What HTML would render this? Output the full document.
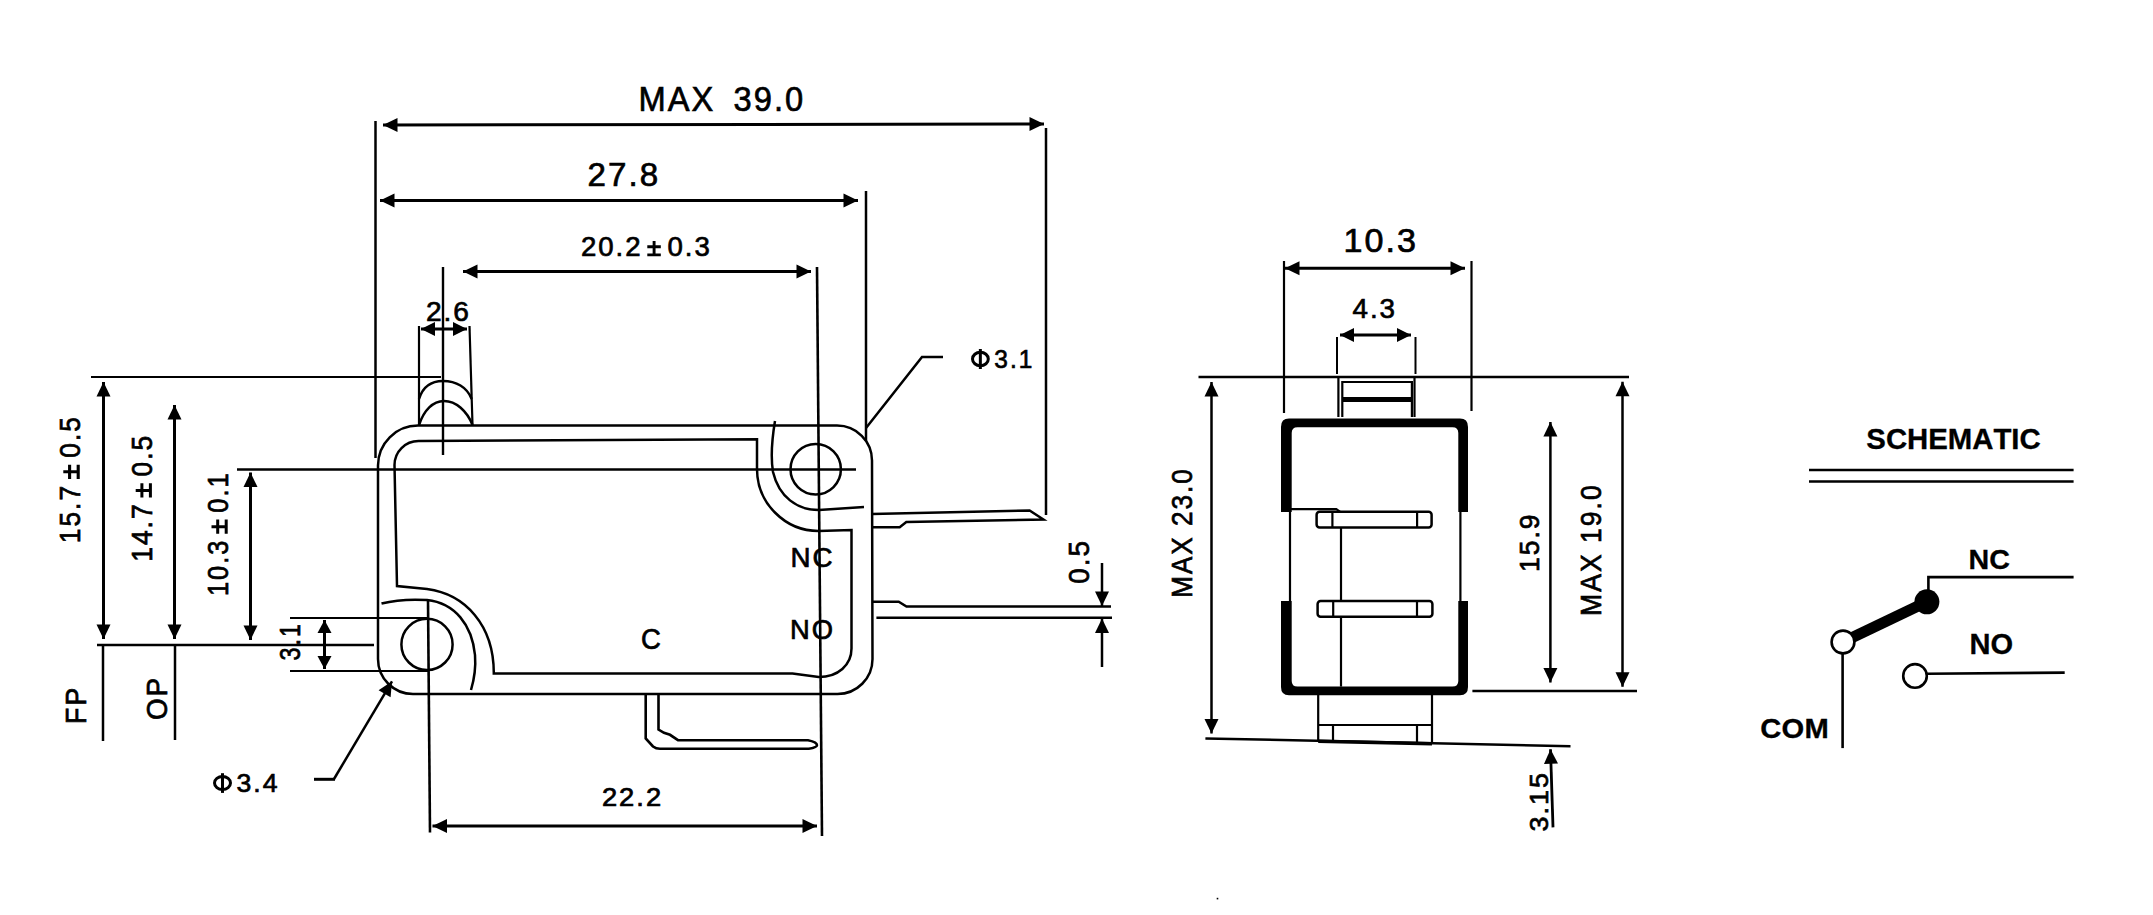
<!DOCTYPE html>
<html><head><meta charset="utf-8"><style>
html,body{margin:0;padding:0;background:#fff;}
body{width:2153px;height:915px;overflow:hidden;}
svg{display:block;}
text{font-family:"Liberation Sans",sans-serif;fill:#000;stroke:#000;}
</style></head><body>
<svg width="2153" height="915" viewBox="0 0 2153 915" stroke="#000" stroke-linecap="butt">
<rect x="0" y="0" width="2153" height="915" fill="#fff" stroke="none"/>
<g fill="#000">
<line x1="383" y1="125" x2="1044" y2="124" stroke-width="3"/>
<path d="M383.0,125.0 L397.5,118.0 L397.5,132.0 Z" stroke="none" fill="#000"/>
<path d="M1044.0,124.0 L1029.5,131.0 L1029.5,117.0 Z" stroke="none" fill="#000"/>
<line x1="375.5" y1="121" x2="375.5" y2="458" stroke-width="2.5"/>
<line x1="1046" y1="128" x2="1046" y2="515" stroke-width="2.5"/>
<g transform="translate(641.2,110.6)"><text transform="translate(-2.7,0) scale(0.9329274719264866,1)" font-size="35.01" font-weight="normal" stroke-width="0.7">M</text><text transform="translate(26.5,0) scale(0.9329274719264866,1)" font-size="35.01" font-weight="normal" stroke-width="0.7">A</text><text transform="translate(50.3,0) scale(0.9329274719264866,1)" font-size="35.01" font-weight="normal" stroke-width="0.7">X</text><text transform="translate(92.4,0) scale(0.9329274719264866,1)" font-size="35.01" font-weight="normal" stroke-width="0.7">3</text><text transform="translate(112.6,0) scale(0.9329274719264866,1)" font-size="35.01" font-weight="normal" stroke-width="0.7">9</text><text transform="translate(132.8,0) scale(0.9329274719264866,1)" font-size="35.01" font-weight="normal" stroke-width="0.7">.</text><text transform="translate(143.9,0) scale(0.9329274719264866,1)" font-size="35.01" font-weight="normal" stroke-width="0.7">0</text></g>
<line x1="380" y1="200.5" x2="858" y2="200.5" stroke-width="3"/>
<path d="M380.0,200.5 L394.5,193.5 L394.5,207.5 Z" stroke="none" fill="#000"/>
<path d="M858.0,200.5 L843.5,207.5 L843.5,193.5 Z" stroke="none" fill="#000"/>
<line x1="866" y1="191" x2="866" y2="441" stroke-width="2.5"/>
<g transform="translate(589.3,185.5)"><text transform="translate(-1.7,0) scale(0.9941563565049182,1)" font-size="33.30" font-weight="normal" stroke-width="0.7">2</text><text transform="translate(18.8,0) scale(0.9941563565049182,1)" font-size="33.30" font-weight="normal" stroke-width="0.7">7</text><text transform="translate(39.2,0) scale(0.9941563565049182,1)" font-size="33.30" font-weight="normal" stroke-width="0.7">.</text><text transform="translate(50.4,0) scale(0.9941563565049182,1)" font-size="33.30" font-weight="normal" stroke-width="0.7">8</text></g>
<line x1="463" y1="271.5" x2="811" y2="271.5" stroke-width="3"/>
<path d="M463.0,271.5 L477.5,264.5 L477.5,278.5 Z" stroke="none" fill="#000"/>
<path d="M811.0,271.5 L796.5,278.5 L796.5,264.5 Z" stroke="none" fill="#000"/>
<line x1="443" y1="267" x2="443" y2="455" stroke-width="2.4"/>
<line x1="817" y1="267" x2="822" y2="836" stroke-width="2.6"/>
<g transform="translate(582.3,256.4)"><text transform="translate(-1.4,0) scale(0.9964660803315929,1)" font-size="27.71" font-weight="normal" stroke-width="0.7">2</text><text transform="translate(16.0,0) scale(0.9964660803315929,1)" font-size="27.71" font-weight="normal" stroke-width="0.7">0</text><text transform="translate(33.3,0) scale(0.9964660803315929,1)" font-size="27.71" font-weight="normal" stroke-width="0.7">.</text><text transform="translate(43.0,0) scale(0.9964660803315929,1)" font-size="27.71" font-weight="normal" stroke-width="0.7">2</text><path d="M65.0,-9.6 H78.5 M71.8,-15.5 V-2.0 M65.0,-1.5 H78.5" stroke-width="2.9" fill="none"/><text transform="translate(85.2,0) scale(0.9964660803315929,1)" font-size="27.71" font-weight="normal" stroke-width="0.7">0</text><text transform="translate(102.5,0) scale(0.9964660803315929,1)" font-size="27.71" font-weight="normal" stroke-width="0.7">.</text><text transform="translate(112.2,0) scale(0.9964660803315929,1)" font-size="27.71" font-weight="normal" stroke-width="0.7">3</text></g>
<line x1="419" y1="326" x2="419" y2="425" stroke-width="2.2"/>
<line x1="469.5" y1="326" x2="472.5" y2="425" stroke-width="2.2"/>
<line x1="421" y1="329" x2="467" y2="329" stroke-width="3"/>
<path d="M421.0,329.0 L435.0,322.0 L435.0,336.0 Z" stroke="none" fill="#000"/>
<path d="M467.0,329.0 L453.0,336.0 L453.0,322.0 Z" stroke="none" fill="#000"/>
<g transform="translate(427.3,320.7)"><text transform="translate(-1.4,0) scale(1.0095730872542297,1)" font-size="27.85" font-weight="normal" stroke-width="0.7">2</text><text transform="translate(16.2,0) scale(1.0095730872542297,1)" font-size="27.85" font-weight="normal" stroke-width="0.7">.</text><text transform="translate(26.0,0) scale(1.0095730872542297,1)" font-size="27.85" font-weight="normal" stroke-width="0.7">6</text></g>
<path d="M419,399 C423,386 432,381 443,381 C456,381 467,387 471.7,399" stroke-width="2.5" fill="none"/>
<path d="M419,425 C424,410 433,401 444,401 C456,401 467,411 472.5,425" stroke-width="2.5" fill="none"/>
<line x1="91" y1="377" x2="441" y2="377" stroke-width="2.2"/>
<line x1="103.5" y1="382" x2="103.5" y2="639" stroke-width="3"/>
<path d="M103.5,382.0 L110.5,396.5 L96.5,396.5 Z" stroke="none" fill="#000"/>
<path d="M103.5,639.0 L96.5,624.5 L110.5,624.5 Z" stroke="none" fill="#000"/>
<line x1="97" y1="645" x2="374" y2="645" stroke-width="2.5"/>
<line x1="103" y1="645" x2="103" y2="741" stroke-width="2.5"/>
<g transform="translate(79.7,541.2) rotate(-90)"><text transform="translate(-2.0,0) scale(0.9000215337342706,1)" font-size="29.28" font-weight="normal" stroke-width="0.7">1</text><text transform="translate(14.7,0) scale(0.9000215337342706,1)" font-size="29.28" font-weight="normal" stroke-width="0.7">5</text><text transform="translate(31.3,0) scale(0.9000215337342706,1)" font-size="29.28" font-weight="normal" stroke-width="0.7">.</text><text transform="translate(40.6,0) scale(0.9000215337342706,1)" font-size="29.28" font-weight="normal" stroke-width="0.7">7</text><path d="M62.2,-10.1 H76.5 M69.4,-16.4 V-2.0 M62.2,-1.5 H76.5" stroke-width="3.1" fill="none"/><text transform="translate(83.4,0) scale(0.9000215337342706,1)" font-size="29.28" font-weight="normal" stroke-width="0.7">0</text><text transform="translate(100.1,0) scale(0.9000215337342706,1)" font-size="29.28" font-weight="normal" stroke-width="0.7">.</text><text transform="translate(109.4,0) scale(0.9000215337342706,1)" font-size="29.28" font-weight="normal" stroke-width="0.7">5</text></g>
<line x1="174.5" y1="405" x2="174.5" y2="639" stroke-width="3"/>
<path d="M174.5,405.0 L181.5,419.5 L167.5,419.5 Z" stroke="none" fill="#000"/>
<path d="M174.5,639.0 L167.5,624.5 L181.5,624.5 Z" stroke="none" fill="#000"/>
<line x1="175" y1="645" x2="175" y2="740" stroke-width="2.5"/>
<g transform="translate(151.9,559.8) rotate(-90)"><text transform="translate(-2.0,0) scale(0.9114439345223948,1)" font-size="29.00" font-weight="normal" stroke-width="0.7">1</text><text transform="translate(14.7,0) scale(0.9114439345223948,1)" font-size="29.00" font-weight="normal" stroke-width="0.7">4</text><text transform="translate(31.4,0) scale(0.9114439345223948,1)" font-size="29.00" font-weight="normal" stroke-width="0.7">.</text><text transform="translate(40.7,0) scale(0.9114439345223948,1)" font-size="29.00" font-weight="normal" stroke-width="0.7">7</text><path d="M62.3,-10.0 H76.5 M69.4,-16.2 V-2.0 M62.3,-1.5 H76.5" stroke-width="3.0" fill="none"/><text transform="translate(83.3,0) scale(0.9114439345223948,1)" font-size="29.00" font-weight="normal" stroke-width="0.7">0</text><text transform="translate(100.0,0) scale(0.9114439345223948,1)" font-size="29.00" font-weight="normal" stroke-width="0.7">.</text><text transform="translate(109.4,0) scale(0.9114439345223948,1)" font-size="29.00" font-weight="normal" stroke-width="0.7">5</text></g>
<line x1="237" y1="469.5" x2="856" y2="469.5" stroke-width="2.5"/>
<line x1="250.5" y1="472.5" x2="250.5" y2="640" stroke-width="3"/>
<path d="M250.5,472.5 L257.5,487.0 L243.5,487.0 Z" stroke="none" fill="#000"/>
<path d="M250.5,640.0 L243.5,625.5 L257.5,625.5 Z" stroke="none" fill="#000"/>
<g transform="translate(227.7,594.1) rotate(-90)"><text transform="translate(-1.9,0) scale(0.8758439778117282,1)" font-size="29.00" font-weight="normal" stroke-width="0.7">1</text><text transform="translate(14.2,0) scale(0.8758439778117282,1)" font-size="29.00" font-weight="normal" stroke-width="0.7">0</text><text transform="translate(30.3,0) scale(0.8758439778117282,1)" font-size="29.00" font-weight="normal" stroke-width="0.7">.</text><text transform="translate(39.4,0) scale(0.8758439778117282,1)" font-size="29.00" font-weight="normal" stroke-width="0.7">3</text><path d="M60.4,-10.0 H74.5 M67.4,-16.2 V-2.0 M60.4,-1.5 H74.5" stroke-width="3.0" fill="none"/><text transform="translate(81.4,0) scale(0.8758439778117282,1)" font-size="29.00" font-weight="normal" stroke-width="0.7">0</text><text transform="translate(97.5,0) scale(0.8758439778117282,1)" font-size="29.00" font-weight="normal" stroke-width="0.7">.</text><text transform="translate(106.6,0) scale(0.8758439778117282,1)" font-size="29.00" font-weight="normal" stroke-width="0.7">1</text></g>
<line x1="290" y1="618" x2="429" y2="618" stroke-width="2.2"/>
<line x1="290" y1="671" x2="429" y2="671" stroke-width="2.2"/>
<line x1="324.5" y1="620" x2="324.5" y2="669" stroke-width="3"/>
<path d="M324.5,620.0 L331.5,633.0 L317.5,633.0 Z" stroke="none" fill="#000"/>
<path d="M324.5,669.0 L317.5,656.0 L331.5,656.0 Z" stroke="none" fill="#000"/>
<g transform="translate(299.7,659.7) rotate(-90)"><text transform="translate(-0.9,0) scale(0.7977741711928502,1)" font-size="29.28" font-weight="normal" stroke-width="0.7">3</text><text transform="translate(14.1,0) scale(0.7977741711928502,1)" font-size="29.28" font-weight="normal" stroke-width="0.7">.</text><text transform="translate(22.6,0) scale(0.7977741711928502,1)" font-size="29.28" font-weight="normal" stroke-width="0.7">1</text></g>
<g transform="translate(85.7,721.7) rotate(-90)"><text transform="translate(-2.2,0) scale(0.896531054168281,1)" font-size="29.71" font-weight="normal" stroke-width="0.7">F</text><text transform="translate(16.1,0) scale(0.896531054168281,1)" font-size="29.71" font-weight="normal" stroke-width="0.7">P</text></g>
<g transform="translate(166.7,718.7) rotate(-90)"><text transform="translate(-1.3,0) scale(0.9507002061941422,1)" font-size="29.28" font-weight="normal" stroke-width="0.7">O</text><text transform="translate(22.3,0) scale(0.9507002061941422,1)" font-size="29.28" font-weight="normal" stroke-width="0.7">P</text></g>
<line x1="334" y1="779" x2="392" y2="681.3" stroke-width="2.5"/>
<path d="M392.0,681.3 L390.6,697.3 L378.6,690.2 Z" stroke="none" fill="#000"/>
<line x1="314" y1="779.3" x2="335" y2="779.3" stroke-width="3"/>
<ellipse cx="222.5" cy="783.0" rx="8.0" ry="6.5" stroke-width="3.0" fill="none"/>
<line x1="222.5" y1="773.2" x2="222.5" y2="792.9" stroke-width="3.0"/>
<g transform="translate(237.5,792.2)"><text transform="translate(-1.0,0) scale(1.0082673190250535,1)" font-size="26.42" font-weight="normal" stroke-width="0.7">3</text><text transform="translate(15.8,0) scale(1.0082673190250535,1)" font-size="26.42" font-weight="normal" stroke-width="0.7">.</text><text transform="translate(25.2,0) scale(1.0082673190250535,1)" font-size="26.42" font-weight="normal" stroke-width="0.7">4</text></g>
<path d="M866,428 L922,357 L943,357" stroke-width="2.5" fill="none"/>
<ellipse cx="980.4" cy="359.0" rx="7.9" ry="6.7" stroke-width="3.0" fill="none"/>
<line x1="980.35" y1="349" x2="980.35" y2="369" stroke-width="3.0"/>
<g transform="translate(995.2,368.0)"><text transform="translate(-0.9,0) scale(0.9351137433946133,1)" font-size="26.13" font-weight="normal" stroke-width="0.7">3</text><text transform="translate(14.7,0) scale(0.9351137433946133,1)" font-size="26.13" font-weight="normal" stroke-width="0.7">.</text><text transform="translate(23.5,0) scale(0.9351137433946133,1)" font-size="26.13" font-weight="normal" stroke-width="0.7">1</text></g>
<line x1="428" y1="600" x2="430" y2="832.5" stroke-width="2.6"/>
<line x1="432.5" y1="826" x2="817" y2="826" stroke-width="3"/>
<path d="M432.5,826.0 L447.0,819.0 L447.0,833.0 Z" stroke="none" fill="#000"/>
<path d="M817.0,826.0 L802.5,833.0 L802.5,819.0 Z" stroke="none" fill="#000"/>
<g transform="translate(603.3,806.3)"><text transform="translate(-1.4,0) scale(1.0935011414601825,1)" font-size="24.99" font-weight="normal" stroke-width="0.7">2</text><text transform="translate(15.8,0) scale(1.0935011414601825,1)" font-size="24.99" font-weight="normal" stroke-width="0.7">2</text><text transform="translate(33.0,0) scale(1.0935011414601825,1)" font-size="24.99" font-weight="normal" stroke-width="0.7">.</text><text transform="translate(42.6,0) scale(1.0935011414601825,1)" font-size="24.99" font-weight="normal" stroke-width="0.7">2</text></g>
<line x1="1102" y1="563" x2="1102" y2="606" stroke-width="2.5"/>
<path d="M1102.0,606.0 L1095.0,591.5 L1109.0,591.5 Z" stroke="none" fill="#000"/>
<line x1="1102" y1="667" x2="1102" y2="618.5" stroke-width="2.5"/>
<path d="M1102.0,618.5 L1109.0,633.0 L1095.0,633.0 Z" stroke="none" fill="#000"/>
<g transform="translate(1088.7,582.7) rotate(-90)"><text transform="translate(-1.1,0) scale(0.9506451501752781,1)" font-size="29.28" font-weight="normal" stroke-width="0.7">0</text><text transform="translate(16.4,0) scale(0.9506451501752781,1)" font-size="29.28" font-weight="normal" stroke-width="0.7">.</text><text transform="translate(26.1,0) scale(0.9506451501752781,1)" font-size="29.28" font-weight="normal" stroke-width="0.7">5</text></g>
<path d="M418,425.6 L837,425.6 A35,35 0 0 1 872,460.6 L872.5,659 A35,35 0 0 1 837.5,694 L413,694 A35,35 0 0 1 378,659 L378,465.6 A40,40 0 0 1 418,425.6 Z" stroke-width="2.5" fill="none"/>
<path d="M397,586 L394.5,465 A24,24 0 0 1 418.5,441 L757,439.3 L757,469 C757,503 785,531 818.5,531 L851.5,530 L851.5,648.5 C851.5,665 838,677 818.7,677 L792.5,673.5 L493.8,673.5 C494,625 465,594 427,589 Z" stroke-width="2.5" fill="none"/>
<path d="M775,421 C771,445 771,460 773,472 C779,497 797,510 819,510 L864,507" stroke-width="2.5" fill="none"/>
<circle cx="815.7" cy="469.3" r="25.2" stroke-width="2.5" fill="none"/>
<path d="M381.5,603.5 C395,600 410,599 427,600 C455,603 472,625 475,655 C476,668 474,680 471,690" stroke-width="2.5" fill="none"/>
<circle cx="427" cy="644.4" r="25.6" stroke-width="2.5" fill="none"/>
<path d="M872,514 L1029.6,510.5 L1043.5,519.5 L906.3,522 L899.7,527.3 L872,527.3" stroke-width="2.5" fill="none"/>
<path d="M872.5,601.8 L898.7,601.8 L906.5,606.6 L1111,606.6" stroke-width="2.5" fill="none"/>
<line x1="876.4" y1="617.8" x2="1112" y2="617.8" stroke-width="2.5"/>
<path d="M645.7,694 L645.7,738.5 L653,746.5 Q656,748.8 660,748.8 L808.7,748.8 Q817,747.5 817,745.3 Q817,742 808,740.2 L678,740.2 L670,734.8 L664,732.8 L658.5,729.5 L658.5,694" stroke-width="2.6" fill="none"/>
<g transform="translate(642.3,648.7)"><text transform="translate(-1.4,0) scale(0.9408433112906266,1)" font-size="29.28" font-weight="normal" stroke-width="0.7">C</text></g>
<g transform="translate(792.8,566.9)"><text transform="translate(-2.3,0) scale(1.0118317008198576,1)" font-size="27.42" font-weight="normal" stroke-width="0.7">N</text><text transform="translate(19.8,0) scale(1.0118317008198576,1)" font-size="27.42" font-weight="normal" stroke-width="0.7">C</text></g>
<g transform="translate(792.3,639.0)"><text transform="translate(-2.2,0) scale(1.0017267469643412,1)" font-size="27.28" font-weight="normal" stroke-width="0.7">N</text><text transform="translate(19.5,0) scale(1.0017267469643412,1)" font-size="27.28" font-weight="normal" stroke-width="0.7">O</text></g>
<line x1="1284" y1="261" x2="1284" y2="413" stroke-width="2.2"/>
<line x1="1471.5" y1="261" x2="1471.5" y2="411" stroke-width="2.2"/>
<line x1="1285" y1="268.3" x2="1465" y2="268.3" stroke-width="3"/>
<path d="M1285.0,268.3 L1299.5,261.3 L1299.5,275.3 Z" stroke="none" fill="#000"/>
<path d="M1465.0,268.3 L1450.5,275.3 L1450.5,261.3 Z" stroke="none" fill="#000"/>
<g transform="translate(1346.2,252.4)"><text transform="translate(-2.6,0) scale(1.0387106606097767,1)" font-size="32.87" font-weight="normal" stroke-width="0.7">1</text><text transform="translate(18.4,0) scale(1.0387106606097767,1)" font-size="32.87" font-weight="normal" stroke-width="0.7">0</text><text transform="translate(39.4,0) scale(1.0387106606097767,1)" font-size="32.87" font-weight="normal" stroke-width="0.7">.</text><text transform="translate(50.9,0) scale(1.0387106606097767,1)" font-size="32.87" font-weight="normal" stroke-width="0.7">3</text></g>
<line x1="1337" y1="337" x2="1337" y2="374" stroke-width="2"/>
<line x1="1415.5" y1="337" x2="1415.5" y2="374" stroke-width="2"/>
<line x1="1340" y1="335" x2="1411" y2="335" stroke-width="3"/>
<path d="M1340.0,335.0 L1354.0,328.0 L1354.0,342.0 Z" stroke="none" fill="#000"/>
<path d="M1411.0,335.0 L1397.0,342.0 L1397.0,328.0 Z" stroke="none" fill="#000"/>
<g transform="translate(1353.1,317.9)"><text transform="translate(-0.6,0) scale(0.9869573283777754,1)" font-size="28.14" font-weight="normal" stroke-width="0.7">4</text><text transform="translate(16.8,0) scale(0.9869573283777754,1)" font-size="28.14" font-weight="normal" stroke-width="0.7">.</text><text transform="translate(26.5,0) scale(0.9869573283777754,1)" font-size="28.14" font-weight="normal" stroke-width="0.7">3</text></g>
<line x1="1198.5" y1="377" x2="1629" y2="377" stroke-width="2.5"/>
<line x1="1211.5" y1="382" x2="1211.5" y2="733.5" stroke-width="2.5"/>
<path d="M1211.5,382.0 L1218.5,396.5 L1204.5,396.5 Z" stroke="none" fill="#000"/>
<path d="M1211.5,733.5 L1204.5,719.0 L1218.5,719.0 Z" stroke="none" fill="#000"/>
<line x1="1205.4" y1="738.4" x2="1570.5" y2="746.3" stroke-width="2.5"/>
<g transform="translate(1191.7,595.7) rotate(-90)"><text transform="translate(-2.1,0) scale(0.891229080100493,1)" font-size="29.28" font-weight="normal" stroke-width="0.7">M</text><text transform="translate(21.6,0) scale(0.891229080100493,1)" font-size="29.28" font-weight="normal" stroke-width="0.7">A</text><text transform="translate(41.0,0) scale(0.891229080100493,1)" font-size="29.28" font-weight="normal" stroke-width="0.7">X</text><text transform="translate(69.7,0) scale(0.891229080100493,1)" font-size="29.28" font-weight="normal" stroke-width="0.7">2</text><text transform="translate(86.2,0) scale(0.891229080100493,1)" font-size="29.28" font-weight="normal" stroke-width="0.7">3</text><text transform="translate(102.7,0) scale(0.891229080100493,1)" font-size="29.28" font-weight="normal" stroke-width="0.7">.</text><text transform="translate(111.9,0) scale(0.891229080100493,1)" font-size="29.28" font-weight="normal" stroke-width="0.7">0</text></g>
<line x1="1550.4" y1="422" x2="1550.4" y2="682.4" stroke-width="2.5"/>
<path d="M1550.4,422.0 L1557.4,436.5 L1543.4,436.5 Z" stroke="none" fill="#000"/>
<path d="M1550.4,682.4 L1543.4,667.9 L1557.4,667.9 Z" stroke="none" fill="#000"/>
<g transform="translate(1539.2,570.0) rotate(-90)"><text transform="translate(-2.0,0) scale(0.9336716921105289,1)" font-size="28.28" font-weight="normal" stroke-width="0.7">1</text><text transform="translate(14.7,0) scale(0.9336716921105289,1)" font-size="28.28" font-weight="normal" stroke-width="0.7">5</text><text transform="translate(31.4,0) scale(0.9336716921105289,1)" font-size="28.28" font-weight="normal" stroke-width="0.7">.</text><text transform="translate(40.7,0) scale(0.9336716921105289,1)" font-size="28.28" font-weight="normal" stroke-width="0.7">9</text></g>
<line x1="1622.5" y1="381.7" x2="1622.5" y2="686.8" stroke-width="2.5"/>
<path d="M1622.5,381.7 L1629.5,396.2 L1615.5,396.2 Z" stroke="none" fill="#000"/>
<path d="M1622.5,686.8 L1615.5,672.3 L1629.5,672.3 Z" stroke="none" fill="#000"/>
<g transform="translate(1600.7,613.7) rotate(-90)"><text transform="translate(-2.2,0) scale(0.9072238589966946,1)" font-size="29.28" font-weight="normal" stroke-width="0.7">M</text><text transform="translate(22.0,0) scale(0.9072238589966946,1)" font-size="29.28" font-weight="normal" stroke-width="0.7">A</text><text transform="translate(41.7,0) scale(0.9072238589966946,1)" font-size="29.28" font-weight="normal" stroke-width="0.7">X</text><text transform="translate(70.8,0) scale(0.9072238589966946,1)" font-size="29.28" font-weight="normal" stroke-width="0.7">1</text><text transform="translate(87.5,0) scale(0.9072238589966946,1)" font-size="29.28" font-weight="normal" stroke-width="0.7">9</text><text transform="translate(104.3,0) scale(0.9072238589966946,1)" font-size="29.28" font-weight="normal" stroke-width="0.7">.</text><text transform="translate(113.7,0) scale(0.9072238589966946,1)" font-size="29.28" font-weight="normal" stroke-width="0.7">0</text></g>
<line x1="1472.4" y1="691" x2="1637" y2="691" stroke-width="2.5"/>
<line x1="1553" y1="827.4" x2="1550.5" y2="749.3" stroke-width="2.8"/>
<path d="M1550.5,749.3 L1558.0,763.6 L1544.0,764.0 Z" stroke="none" fill="#000"/>
<g transform="translate(1548.0,830.4) rotate(-90)"><text transform="translate(-1.0,0) scale(1.013563485165687,1)" font-size="26.56" font-weight="normal" stroke-width="0.7">3</text><text transform="translate(15.9,0) scale(1.013563485165687,1)" font-size="26.56" font-weight="normal" stroke-width="0.7">.</text><text transform="translate(25.4,0) scale(1.013563485165687,1)" font-size="26.56" font-weight="normal" stroke-width="0.7">1</text><text transform="translate(42.4,0) scale(1.013563485165687,1)" font-size="26.56" font-weight="normal" stroke-width="0.7">5</text></g>
<path d="M1338.4,417 L1338.4,377 L1414.5,377 L1414.5,417" stroke-width="2.2" fill="none"/>
<path d="M1342.3,417 L1342.3,382 L1411.9,382 L1411.9,417" stroke-width="2.2" fill="none"/>
<line x1="1342.3" y1="399.5" x2="1411.9" y2="399.5" stroke-width="5"/>
<path d="M1281,512 V427 Q1281,418.6 1289,418.6 H1460 Q1468,418.6 1468,427 V512 H1458.3 V433 Q1458.3,427.3 1452.5,427.3 H1297.5 Q1291.7,427.3 1291.7,433 V512 Z" stroke="none" fill="#000"/>
<path d="M1281,601 V687 Q1281,695.2 1289,695.2 H1460 Q1468,695.2 1468,687 V601 H1458.3 V681 Q1458.3,686.6 1452.5,686.6 H1297.5 Q1291.7,686.6 1291.7,681 V601 Z" stroke="none" fill="#000"/>
<line x1="1290" y1="509" x2="1290" y2="601" stroke-width="2.2"/>
<line x1="1460.4" y1="510" x2="1460.4" y2="601" stroke-width="2.2"/>
<path d="M1290,509.2 L1336.3,509.2 L1340.2,511.8" stroke-width="2.2" fill="none"/>
<rect x="1316.6" y="511.8" width="115.0" height="15.800000000000011" rx="3" stroke-width="2.5" fill="none"/>
<line x1="1332.4" y1="511.8" x2="1332.4" y2="527.6" stroke-width="2.2"/>
<line x1="1417.1" y1="511.8" x2="1417.1" y2="527.6" stroke-width="2.2"/>
<rect x="1317.6" y="601" width="114.80000000000018" height="15.700000000000045" rx="3" stroke-width="2.5" fill="none"/>
<line x1="1333.2" y1="601" x2="1333.2" y2="616.7" stroke-width="2.2"/>
<line x1="1417" y1="601" x2="1417" y2="616.7" stroke-width="2.2"/>
<line x1="1341" y1="527.6" x2="1341" y2="601" stroke-width="2.2"/>
<line x1="1341" y1="616.7" x2="1341" y2="686.6" stroke-width="2.2"/>
<path d="M1318.2,695 L1318.2,740.8 M1432,695 L1432,743.2" stroke-width="2.2" fill="none"/>
<line x1="1318.2" y1="725" x2="1432" y2="725" stroke-width="2.2"/>
<line x1="1333" y1="725" x2="1333" y2="741" stroke-width="2.2"/>
<line x1="1417" y1="725" x2="1417" y2="742.8" stroke-width="2.2"/>
<line x1="1318.2" y1="741.2" x2="1432" y2="743.7" stroke-width="3.5"/>
<g transform="translate(1867.2,449.0)"><text transform="translate(-0.9,0) scale(1.0225377507324767,1)" font-size="28.74" font-weight="bold" stroke-width="0.3">S</text><text transform="translate(18.7,0) scale(1.0225377507324767,1)" font-size="28.74" font-weight="bold" stroke-width="0.3">C</text><text transform="translate(39.9,0) scale(1.0225377507324767,1)" font-size="28.74" font-weight="bold" stroke-width="0.3">H</text><text transform="translate(61.1,0) scale(1.0225377507324767,1)" font-size="28.74" font-weight="bold" stroke-width="0.3">E</text><text transform="translate(80.6,0) scale(1.0225377507324767,1)" font-size="28.74" font-weight="bold" stroke-width="0.3">M</text><text transform="translate(105.0,0) scale(1.0225377507324767,1)" font-size="28.74" font-weight="bold" stroke-width="0.3">A</text><text transform="translate(126.2,0) scale(1.0225377507324767,1)" font-size="28.74" font-weight="bold" stroke-width="0.3">T</text><text transform="translate(144.1,0) scale(1.0225377507324767,1)" font-size="28.74" font-weight="bold" stroke-width="0.3">I</text><text transform="translate(152.2,0) scale(1.0225377507324767,1)" font-size="28.74" font-weight="bold" stroke-width="0.3">C</text></g>
<line x1="1809" y1="470" x2="2073.6" y2="470" stroke-width="2.5"/>
<line x1="1809" y1="481.4" x2="2073.6" y2="481.4" stroke-width="2.5"/>
<g transform="translate(1970.3,569.3)"><text transform="translate(-1.9,0) scale(1.0083508384005897,1)" font-size="28.45" font-weight="bold" stroke-width="0.3">N</text><text transform="translate(19.0,0) scale(1.0083508384005897,1)" font-size="28.45" font-weight="bold" stroke-width="0.3">C</text></g>
<path d="M1928.4,591 L1928.4,577.1 L2073.6,577.1" stroke-width="2.6" fill="none"/>
<line x1="1846" y1="640.5" x2="1927" y2="601.8" stroke-width="11"/>
<circle cx="1926.9" cy="601.8" r="12.5" stroke-width="0" fill="#000"/>
<circle cx="1843" cy="642" r="11.4" stroke-width="2.6" fill="#fff"/>
<line x1="1842.6" y1="654" x2="1842.6" y2="748.1" stroke-width="2.6"/>
<g transform="translate(1971.3,653.9)"><text transform="translate(-1.9,0) scale(1.0011467447528504,1)" font-size="29.03" font-weight="bold" stroke-width="0.3">N</text><text transform="translate(19.3,0) scale(1.0011467447528504,1)" font-size="29.03" font-weight="bold" stroke-width="0.3">O</text></g>
<circle cx="1915" cy="675.9" r="11.8" stroke-width="2.6" fill="#fff"/>
<line x1="1927" y1="673.8" x2="2064.7" y2="672.6" stroke-width="2.6"/>
<g transform="translate(1761.5,738.2)"><text transform="translate(-1.2,0) scale(1.0462236924656367,1)" font-size="27.88" font-weight="bold" stroke-width="0.3">C</text><text transform="translate(20.1,0) scale(1.0462236924656367,1)" font-size="27.88" font-weight="bold" stroke-width="0.3">O</text><text transform="translate(43.1,0) scale(1.0462236924656367,1)" font-size="27.88" font-weight="bold" stroke-width="0.3">M</text></g>
<rect x="1216.7" y="897.8" width="1.6" height="1.6" stroke="none" fill="#000"/>
</g>
</svg>
</body></html>
